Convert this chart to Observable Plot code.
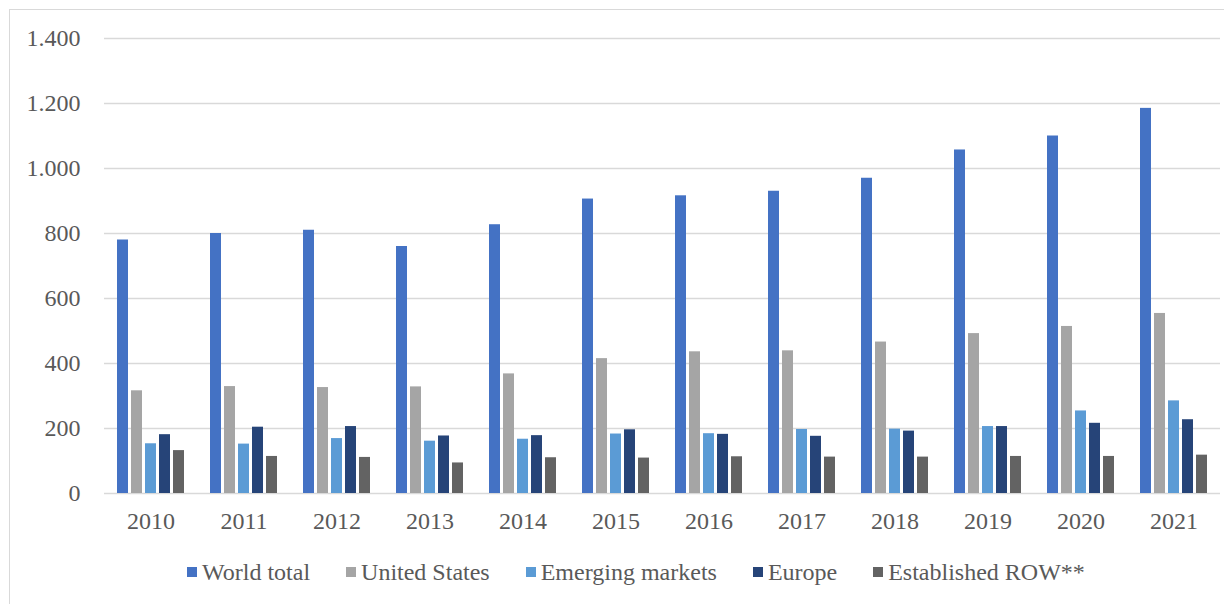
<!DOCTYPE html>
<html>
<head>
<meta charset="utf-8">
<script src="https://cdn.jsdelivr.net/npm/d3@7"></script>
<script src="https://cdn.jsdelivr.net/npm/@observablehq/plot@0.6"></script>
<style>
  html, body { margin: 0; padding: 0; background: #fff; }
  body { width: 1224px; height: 604px; position: relative; overflow: hidden; font-family: "Liberation Serif", "Times New Roman", serif; }
  #frame { position: absolute; left: 9px; top: 9px; width: 1240px; height: 620px; border: 1px solid #d9d9d9; box-sizing: border-box; }
  #chart { position: absolute; left: 0; top: 0; }
  #legend { position: absolute; left: 187px; top: 557px; height: 30px; display: flex; align-items: center; font-size: 24px; color: #595959; white-space: nowrap; }
  .item { display: flex; align-items: center; margin-right: 36px; }
  .sw { width: 10px; height: 10px; margin-right: 5px; }
</style>
</head>
<body>
<div id="frame"></div>
<div id="chart"></div>
<div id="legend"></div>
<script>
const years = ["2010","2011","2012","2013","2014","2015","2016","2017","2018","2019","2020","2021"];
const seriesNames = ["World total","United States","Emerging markets","Europe","Established ROW**"];
const seriesColors = ["#4472C4","#A5A5A5","#5B9BD5","#264478","#636363"];
const worldTotal = [780,800,810,760,827,906,916,930,970,1057,1100,1185];
const unitedStates = [316,329,326,328,368,415,436,439,466,492,514,554];
const emergingMarkets = [153,152,169,161,167,183,184,197,198,206,254,285];
const europe = [181,204,206,177,178,196,182,176,192,206,216,227];
const establishedRow = [132,114,111,94,110,109,113,112,112,114,114,118];
const yTicks = [0,200,400,600,800,1000,1200,1400];

const seriesValues = [worldTotal, unitedStates, emergingMarkets, europe, establishedRow];
const data = [];
years.forEach((yr, i) => {
  seriesNames.forEach((s, j) => data.push({year: yr, series: s, value: seriesValues[j][i]}));
});

const fmt = d3.formatLocale({decimal: ",", thousands: ".", grouping: [3], currency: ["", ""]}).format(",");

const chart = Plot.plot({
  width: 1224,
  height: 540,
  marginLeft: 100,
  marginRight: 0,
  marginTop: 38,
  marginBottom: 47,
  style: {fontFamily: "'Liberation Serif', 'Times New Roman', serif", fontSize: "24px", color: "#595959", background: "transparent"},
  facet: {data, x: "year"},
  fx: {domain: years, paddingInner: 0, paddingOuter: 0, label: null, tickSize: 0, tickPadding: 18},
  x: {domain: seriesNames, paddingInner: 0.18, paddingOuter: 0.87, axis: null},
  y: {domain: [0, 1400], ticks: yTicks, tickFormat: fmt, tickSize: 0, tickPadding: 24, label: null},
  color: {domain: seriesNames, range: seriesColors},
  marks: [
    Plot.ruleY(yTicks, {stroke: "#d9d9d9", strokeWidth: 1.3}),
    Plot.barY(data, {x: "series", y: "value", fill: "series"})
  ]
});
chart.querySelectorAll("text").forEach(t => t.setAttribute("fill", "#595959"));
document.getElementById("chart").appendChild(chart);

const legend = document.getElementById("legend");
seriesNames.forEach((s, j) => {
  const it = document.createElement("div");
  it.className = "item";
  const sw = document.createElement("div");
  sw.className = "sw";
  sw.style.background = seriesColors[j];
  const tx = document.createElement("span");
  tx.textContent = s;
  it.appendChild(sw); it.appendChild(tx);
  legend.appendChild(it);
});
</script>
</body>
</html>
